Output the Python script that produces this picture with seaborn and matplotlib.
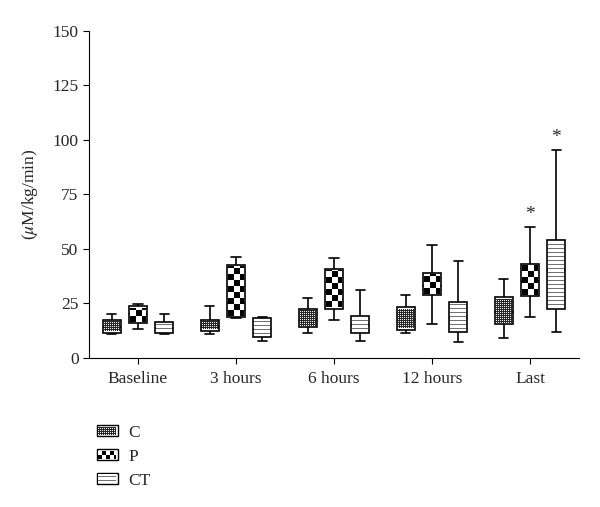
import numpy as np
import pandas as pd
import matplotlib
matplotlib.use('Agg')
import matplotlib.pyplot as plt
from matplotlib.patches import Rectangle
import seaborn as sns

# 시간대
times = ['Baseline', '3 hours', '6 hours', '12 hours', 'Last']
groups = ['C', 'P', 'CT']

# 박스 통계값 (min, q1, median, q3, max)
c_min = [11.0, 10.8, 11.1, 11.1, 9.1]
c_q1 = [11.3, 12.2, 13.9, 12.7, 15.2]
c_med = [14.0, 14.0, 17.0, 17.0, 21.0]
c_q3 = [17.3, 17.3, 22.4, 23.1, 27.7]
c_max = [20.2, 23.7, 27.3, 28.9, 35.9]

p_min = [13.0, 18.0, 17.0, 15.5, 18.7]
p_q1 = [15.8, 18.5, 22.4, 28.5, 28.2]
p_med = [20.0, 25.0, 30.0, 33.0, 35.0]
p_q3 = [23.6, 42.6, 40.8, 39.0, 43.1]
p_max = [24.5, 46.2, 45.9, 51.9, 60.0]

ct_min = [11.0, 7.7, 7.5, 7.2, 11.6]
ct_q1 = [11.3, 9.3, 11.4, 11.6, 22.4]
ct_med = [13.5, 13.0, 15.0, 18.0, 40.0]
ct_q3 = [16.3, 18.0, 19.0, 25.4, 54.2]
ct_max = [20.2, 18.6, 31.2, 44.2, 95.5]

# 유의 표시 (*)
star_group = ['P', 'CT']
star_time = ['Last', 'Last']

stats = {
    'C': (c_min, c_q1, c_med, c_q3, c_max),
    'P': (p_min, p_q1, p_med, p_q3, p_max),
    'CT': (ct_min, ct_q1, ct_med, ct_q3, ct_max),
}

# 5개 값으로 사분위수가 그대로 나오도록 long format 생성
rows = []
for g in groups:
    for i, t in enumerate(times):
        for s in stats[g]:
            rows.append({'time': t, 'group': g, 'value': s[i]})
df = pd.DataFrame(rows)

sns.set_style('ticks')
plt.rcParams['font.family'] = ['Liberation Serif', 'DejaVu Serif']
plt.rcParams['mathtext.fontset'] = 'stix'

fs = 12.5
fig = plt.figure(figsize=(6, 5.07), dpi=100)
ax = fig.add_axes([89 / 600, 1 - 357.5 / 507, 490 / 600, 326.5 / 507])

sns.boxplot(data=df, x='time', y='value', hue='group', order=times, hue_order=groups,
            whis=(0, 100), width=0.8, gap=0.3, palette=['white'] * 3,
            linecolor='black', linewidth=1.2, legend=False, ax=ax)

ax.set_xlim(-0.5, 4.5)
ax.set_ylim(0, 150)
ax.set_yticks([0, 25, 50, 75, 100, 125, 150])
ax.set_xlabel('')
ax.set_ylabel(r'($\mu$M/kg/min)', fontsize=fs)
ax.yaxis.set_label_coords(-0.1, 0.5)
ax.tick_params(axis='both', labelsize=fs, length=4, width=0.8, color='black', direction='out')
ax.tick_params(axis='x', pad=6)
for sp in ['left', 'bottom']:
    ax.spines[sp].set_linewidth(0.8)
    ax.spines[sp].set_color('black')
sns.despine(ax=ax)

# 별표
offsets = {g: (k - 1) * 0.8 / 3 for k, g in enumerate(groups)}
for g, t in zip(star_group, star_time):
    i = times.index(t)
    ax.text(i + offsets[g], stats[g][4][i] + 5.5, '*', ha='center', va='center', fontsize=14)

handles = [Rectangle((0, 0), 1, 1, facecolor='white', edgecolor='black', linewidth=1.0) for _ in groups]
leg = fig.legend(handles, groups, loc='upper left', bbox_to_anchor=(97 / 600, 1 - 425 / 507),
                 frameon=False, fontsize=fs, handlelength=1.2, handleheight=0.6,
                 labelspacing=0.45, handletextpad=0.6, borderpad=0, borderaxespad=0)


def pattern(kind, h, w, cell=6):
    yy, xx = np.mgrid[0:h, 0:w]
    if kind == 'C':
        white = (yy % 2 == 0) & (xx % 2 == 0)
        img = np.where(white, 0.95, 0.15)
    elif kind == 'P':
        img = np.where(((yy // cell) + (xx // cell)) % 2 == 0, 0.0, 1.0)
    else:
        img = np.where(yy % 4 == 2, 0.45, 1.0)
    return np.dstack([img, img, img])


def fill_pattern(kind, bb, cell=6):
    xo = int(np.ceil(bb.x0 + 1))
    yo = int(np.ceil(bb.y0 + 1))
    w = int(np.floor(bb.x1 - 1)) - xo
    h = int(np.floor(bb.y1 - 1)) - yo
    if w > 0 and h > 0:
        fig.figimage(pattern(kind, h, w, cell), xo=xo, yo=yo, zorder=10, origin='lower')


fig.canvas.draw()
renderer = fig.canvas.get_renderer()
inv = ax.transData.inverted()
for p in ax.patches:
    bb = p.get_window_extent(renderer)
    xc = inv.transform(((bb.x0 + bb.x1) / 2, (bb.y0 + bb.y1) / 2))[0]
    k = int(round((xc - round(xc)) / (0.8 / 3))) + 1
    fill_pattern(groups[k], bb)
for g, p in zip(groups, leg.get_patches()):
    fill_pattern(g, p.get_window_extent(renderer), cell=4)

fig.savefig('out.png', dpi=100)
